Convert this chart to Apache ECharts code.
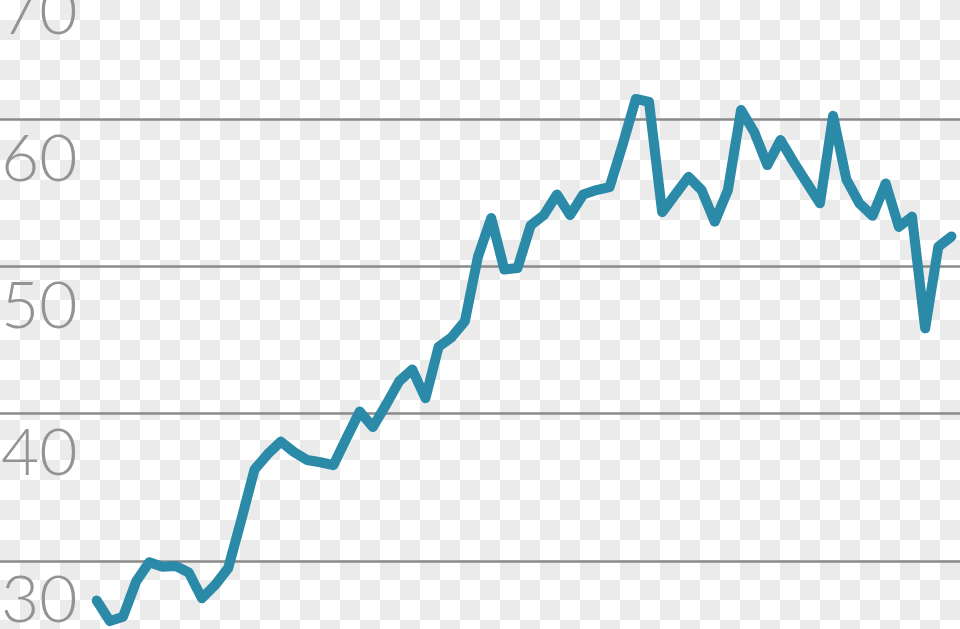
<!DOCTYPE html>
<html>
<head>
<meta charset="utf-8">
<script src="https://cdn.jsdelivr.net/npm/echarts@6/dist/echarts.min.js"></script>
<style>
  html, body { margin: 0; padding: 0; }
  body {
    width: 960px; height: 629px; overflow: hidden;
    background: repeating-conic-gradient(#ebebeb 0% 25%, #ffffff 0% 50%) 0 0 / 40px 40px;
  }
  #chart { width: 960px; height: 629px; }
</style>
</head>
<body>
<div id="chart"></div>
<script>
// Series values, one per period
const values = [
  27.3, 25.9, 26.2, 28.6, 29.9, 29.6, 29.65, 29.2, 27.45, 28.35,
  29.5, 32.8, 36.2, 37.25, 38.1, 37.4, 36.85, 36.7, 36.5, 38.35,
  40.15, 39.1, 40.6, 42.2, 43.0, 41.05, 44.55, 45.2, 46.3, 50.7,
  53.3, 49.8, 49.9, 52.8, 53.5, 54.9, 53.5, 54.9, 55.2, 55.4,
  58.3, 61.4, 61.2, 53.7, 54.9, 56.1, 55.2, 53.05, 55.2, 60.65,
  59.15, 56.9, 58.6, 57.1, 55.7, 54.3, 60.25, 55.95, 54.3, 53.45,
  55.65, 52.7, 53.4, 45.8, 51.35, 52.05
];
const periods = values.map((v, i) => i);
// Gridline / tick values
const yTicks = [30, 40, 50, 60, 70];

const labelFont = {
  fill: '#939393',
  fontSize: 66,
  fontFamily: 'Lato, "Open Sans", sans-serif',
  fontWeight: 300
};

const chart = echarts.init(document.getElementById('chart'), null, { renderer: 'canvas' });
chart.setOption({
  backgroundColor: 'transparent',
  animation: false,
  grid: { left: 0, right: 0, top: 0, bottom: 0, containLabel: false },
  xAxis: {
    type: 'value',
    min: -7.354,
    max: 65.65,
    show: false
  },
  yAxis: {
    type: 'value',
    min: 25.364,
    max: 68.124,
    show: false,
    splitLine: { show: false }
  },
  series: [{
    type: 'line',
    data: periods.map((p, i) => [p, values[i]]),
    symbol: 'none',
    clip: false,
    z: 3,
    lineStyle: { color: '#2b8aa8', width: 10, cap: 'round', join: 'round' },
    markLine: {
      silent: true,
      symbol: ['none', 'none'],
      z: 1,
      lineStyle: { color: '#8a8a8a', width: 2.5, type: 'solid' },
      label: { show: false },
      emphasis: { disabled: true },
      data: yTicks.filter(v => v < 68).map(v => ({ yAxis: v }))
    }
  }]
});

// Tick labels, placed through the y axis scale (70 lies just above the visible area)
const labelEls = yTicks.map(v => {
  const y = chart.convertToPixel({ yAxisIndex: 0 }, v);
  return {
    type: 'text',
    x: 1,
    y: y + 7,
    silent: true,
    z: 5,
    style: Object.assign({ text: String(v), textAlign: 'left', textVerticalAlign: 'top' }, labelFont)
  };
});
chart.setOption({ graphic: labelEls });
</script>
</body>
</html>
